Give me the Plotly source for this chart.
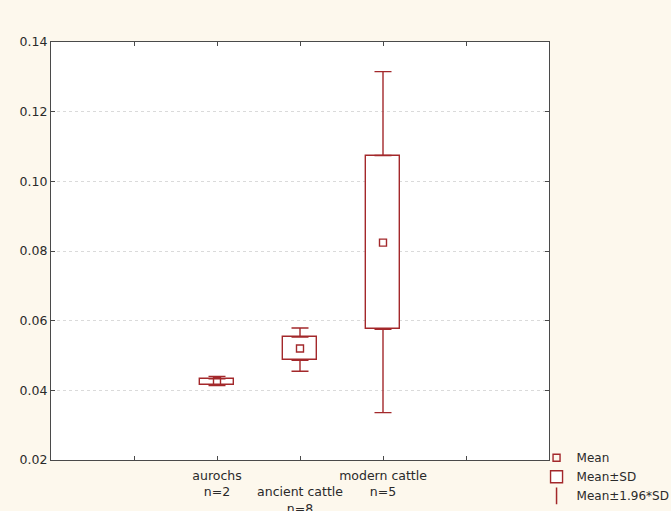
import plotly.graph_objects as go

categories = ["aurochs", "ancient cattle", "modern cattle"]
n_values = [2, 8, 5]
x_pos = [2, 3, 4]
means = [0.0426, 0.0520, 0.0824]
sd_low = [0.0416, 0.0486, 0.0575]
sd_high = [0.0433, 0.0553, 0.1074]
ci_low = [0.0414, 0.0455, 0.0336]
ci_high = [0.0440, 0.0579, 0.1315]
y_ticks = [0.02, 0.04, 0.06, 0.08, 0.10, 0.12, 0.14]

RED = "#a3282b"
AX = "#4a4a4a"
BG = "#fdf8ed"
FONT = "DejaVu Sans, Verdana, sans-serif"

tick_text = [""]
for i, (c, n) in enumerate(zip(categories, n_values)):
    lab = f"{c}<br>n={n}"
    if i == 1:
        lab = "<br>" + lab
    tick_text.append(lab)
tick_text.append("")

fig = go.Figure()

# Mean±SD boxes
fig.add_trace(go.Bar(
    x=x_pos, base=sd_low, y=[h - l for h, l in zip(sd_high, sd_low)],
    width=0.42, marker=dict(color="white", line=dict(color=RED, width=1.4)),
    name="Mean±SD", legendrank=2, hoverinfo="skip"))

# whiskers (upper and lower) as error bars from the box edges
fig.add_trace(go.Scatter(
    x=x_pos, y=sd_high, mode="markers", marker=dict(size=1, color="rgba(0,0,0,0)"),
    error_y=dict(type="data", symmetric=False,
                 array=[c - h for c, h in zip(ci_high, sd_high)],
                 arrayminus=[0, 0, 0], color=RED, thickness=1.4, width=8.5),
    showlegend=False, hoverinfo="skip"))
fig.add_trace(go.Scatter(
    x=x_pos, y=sd_low, mode="markers", marker=dict(size=1, color="rgba(0,0,0,0)"),
    error_y=dict(type="data", symmetric=False, array=[0, 0, 0],
                 arrayminus=[l - c for l, c in zip(sd_low, ci_low)],
                 color=RED, thickness=1.4, width=8.5),
    showlegend=False, hoverinfo="skip"))

# Means
fig.add_trace(go.Scatter(
    x=x_pos, y=means, mode="markers", name="Mean", legendrank=1,
    marker=dict(symbol="square-open", size=7, color=RED, line=dict(width=1.4, color=RED))))

# legend key for whiskers
fig.add_trace(go.Scatter(
    x=[None], y=[None], mode="markers", name="Mean±1.96*SD", legendrank=3,
    marker=dict(symbol="line-ns-open", size=12, color=RED, line=dict(width=1.5, color=RED))))

fig.update_layout(
    width=671, height=511,
    margin=dict(l=51, r=122, t=42, b=51, autoexpand=False),
    paper_bgcolor=BG, plot_bgcolor="white",
    font=dict(family=FONT, size=12.5, color="#2a2a2a"),
    showlegend=True,
    legend=dict(x=0.975, y=0.04, xanchor="left", yanchor="top",
                bgcolor="rgba(0,0,0,0)", font=dict(family=FONT, size=12, color="#2a2a2a"),
                itemwidth=30, tracegroupgap=0),
    bargap=0,
)
fig.update_xaxes(
    range=[0, 6], tickmode="array", tickvals=[1, 2, 3, 4, 5], ticktext=tick_text,
    tickangle=0, ticklabelstandoff=4,
    ticks="inside", ticklen=4, tickcolor=AX, showline=True, linecolor=AX, linewidth=1.3,
    mirror="ticks", showgrid=False, zeroline=False, automargin=False)
fig.update_yaxes(
    range=[0.02, 0.14], tickmode="array", tickvals=y_ticks,
    ticktext=[f"{v:.2f}" for v in y_ticks],
    ticks="inside", ticklen=4, tickcolor=AX, showline=True, linecolor=AX, linewidth=1.3,
    mirror="ticks", showgrid=True, gridcolor="#dadada", griddash="dot", gridwidth=1,
    zeroline=False, automargin=False)

fig.write_html(
    "out.html",
    config={"displayModeBar": False},
    post_script=("document.body.style.margin='0';"
                 "document.body.style.background='" + BG + "';"
                 "document.documentElement.style.overflow='hidden';"))
